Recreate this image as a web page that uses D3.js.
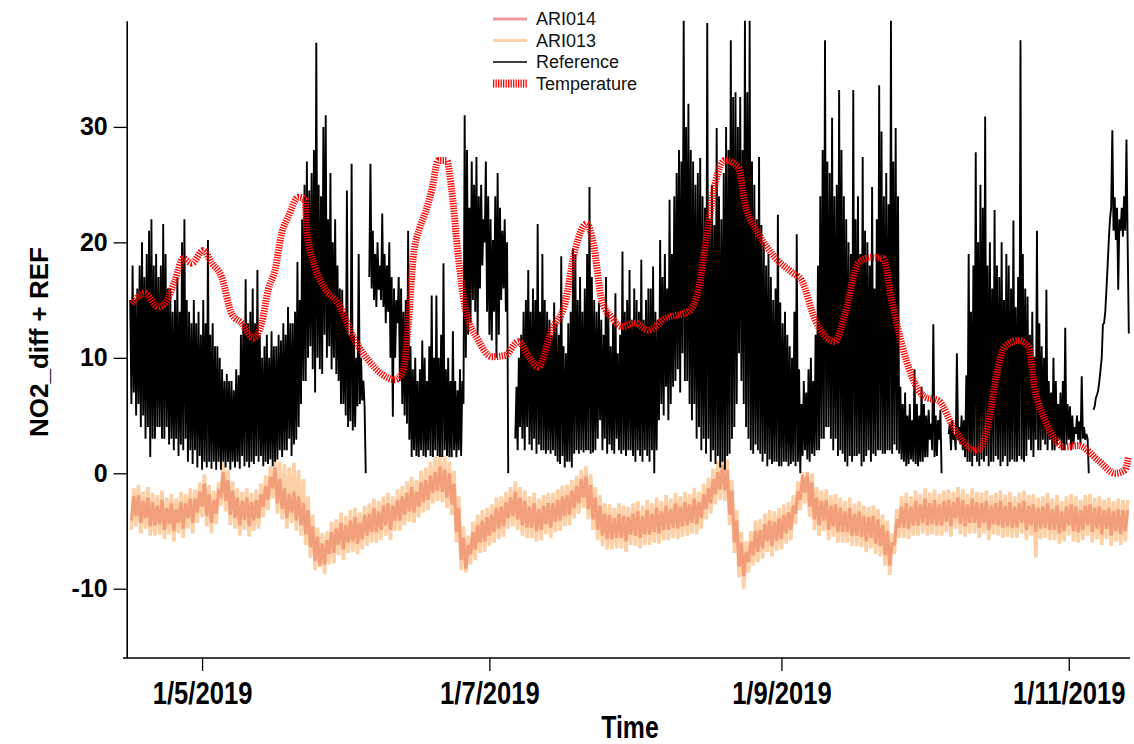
<!DOCTYPE html>
<html><head><meta charset="utf-8">
<script src="https://cdn.jsdelivr.net/npm/d3@7/dist/d3.min.js"></script>
<style>body{margin:0;background:#fff}svg{display:block}</style>
</head><body>
<svg id="chart" width="1134" height="744"></svg>
<script>
// ---------------- data ----------------
const seriesNames = ["ARI014", "ARI013", "Reference", "Temperature"];
const xDomainDates = ["2019-04-15", "2019-11-14"];
const yDomainValues = [-16, 39.2];
const xTickDates = ["2019-05-01", "2019-07-01", "2019-09-01", "2019-11-01"];
const yTickValues = [-10, 0, 10, 20, 30];
const axisTitles = ["Time", "NO2_diff + REF"];

// Reference: four readings per day (every 6 h) starting 15 Apr 2019 00:00
const referenceStart = "2019-04-15T00:00:00Z";
const referenceStepHours = 6;
const referenceValues = [
null,null,null,15, 6,18,7,15, 5,16,6,18, 4,20,5,17, 3,19,4,21, 1.4,22,3,18, 3,19,4,17, 4,18,3,21.6, 3,19,4,16, 2.5,16,3,14,
2,15,3,17, 1.5,14,2.5,20, 2,22,3,15, 1,14,2,13, 0.8,15,2,13, 0.5,14,1.5,12, 0.3,15,1,13, 0.5,20.2,1,12, 0.4,13,1,11, 0.3,11,1,10,
0.3,9,1,8, 0.5,8.6,1,8, 0.3,8,1,7.2, 0.5,9,1,8.5, 0.4,12,1.5,13, 0.6,16.8,1,13, 0.5,14,1,16, 0.8,13,1.5,17.6, 1,12,1.5,10, 0.6,11,1,12,
0.8,10,1.2,12.3, 0.6,11,1,11, 1.2,12,2,11.5, 1.4,13,2,12, 2,14.4,3,13, 1.5,13,2.5,14, 2.9,18.3,4,15, 6,22,8,25, 8,27,10,24.5, 11,26,9,28,
7,37.3,10,25, 9,24,8.6,30, 12,31,10,22, 11,26,9,20, 10,22,8.6,18, 8,16,6,15.9, 6,14,5,24.5, 4,12,4.5,26.8, 3.7,12,4,10, 5.8,19,6,10,
6.3,8,5.8,0, null,null,17,26.8, 16,21,15,19, 14.4,20,15.9,18, 15,22.5,14.4,19, 13,18,14,20, 10,17,4.9,16, 10,15,13,17, 8,16,6,14, 5,15,4.3,21,
2.9,11,1.4,9, 2,10,1.5,8, 1.4,9,2,11.5, 1.5,10,1.4,8, 2,11,1.5,15.4, 1.4,10,2,15.4, 1.5,10,1.4,12, 1.4,18.2,2,9, 1.5,10,1.4,8, 1.4,12.3,2,8,
1.4,7.2,2,9, 1.5,8,6,31, 10,28,12,23, 13,27,15,25, 14,27.4,12,24, 16,25,18,22, 20,27,14,24, 12,22,11.5,20.2, 14,24,10,26, 12,23,15,21,
16,22,14,20, 0,null,null,null, null,null,3,7.5, 2,10,4,12, 3,14,2,15, 4,17.6,2.5,14, 2,16,3,15, 1.7,21.6,2.5,14, 2,19,2,15, 1.7,14,2,13.3,
1.7,12,2,14.8, 1.5,13,1,12, 0.8,18.8,1.5,11, 0.5,10.4,1,13, 1,14,0.5,19.5, 1.7,19,2,15, 1.7,17,2,14, 1.8,16,2,19, 2,24.8,1.7,17, 1.8,15,2,14,
3,14.8,4.6,13.3, 2,12,3,17, 1.7,14,2.5,11, 2,13,1.7,15.6, 3,10.4,2,12, 1.7,19.2,2,14, 1.5,15,2,17.6, 2,13.3,1.5,16, 1,15,2,14, 1.5,18.5,1,13.3,
2,15,1.5,16, 1,16,2,17.9, 0,14,2,13.3, 4.6,20.2,6,17, 5,19,7.5,16, 4.6,23.7,6,19, 7.5,24,8,26, 9,28,7,27, 10.4,39.2,8,30, 8,32,6,28,
4.6,27,6,25, 3,26,4,27.3, 2,24,3,23, 1.7,39,3,22, 1,25,2,21.5, 0.8,29.9,1.5,24, 0.5,22,1,26, 0.3,30,1.5,28, 1.7,37.5,3,32.6, 4,33,6,30,
10.4,32.6,8,28, 6,39.2,4,33, 3,39.2,2,27, 1.7,25,2.5,22, 2,27.4,1.7,21.5, 1,20,1.7,18, 0.6,19,1.2,17, 0.8,15,1,16, 1,22.4,0.6,14.8, 0.6,13,1,14,
1,12,0.6,11, 0.8,10,1,14, 0.6,20.7,1,9, 0,6,1.5,8, 2,7,1.2,9, 1,10,1.7,8, 1.5,12,2,18, 2,24,3,28, 3,37.5,4,27, 4,26,3,30.8,
2,24,3,25, 1.5,33.2,2,28, 1.7,24,1,22, 0.6,20,1.5,19, 1,33.2,1.5,22, 1.5,24,1.7,19, 0.6,27.4,1,21, 1.5,20,2,18, 1,24.8,1.7,16, 1.5,22,2,33.6,
2,29.6,1.7,24, 1.7,26,2,23.3, 2,39.2,1.7,27, 2.5,29.9,2,24, 1.7,7.5,1.2,6, 1,7,0.6,5, 0.8,6,1.2,4.6, 1,9,0.8,6, 0.6,5,1,7.5, 1,6,1.4,5,
1.4,5.5,2.9,4.3, 2,12.9,1.4,5, 1.5,4.6,2.9,5.5, 0,null,null,null, null,null,3.4,4.3, 2,4.6,2.9,3.4, 2,10.4,2.9,4, 2.5,5,2,4.6, 1.4,8.5,1,19, 1,14,0.6,18,
1.5,27.8,1,20, 0.6,25,1.2,23, 1,30.9,1.5,18, 0.6,20,1,16, 1,22.8,1.5,18, 1.2,17,0.6,20, 1,15,1.5,19, 0.6,18,1,16, 1.2,21.9,1,14.4, 1,17,1.5,37.5,
1.2,19,1,16, 1.5,15.3,2.9,12, 2,14,1.4,10.1, 2.9,21,2,13, 2,11,2.9,10, 2.5,15.9,2,8, 2.9,7,2,10, 2,8,2.5,6, 2.9,7,2,8, 2,12.6,2.5,6,
2.9,5.8,2,5, 2.5,4,3.4,5, 2.9,4.5,2.5,8.4, 3,4,2.9,3.4, 3,0,null,null, null,5.5,5.8,6.5, 6.8,7.2,8,9, 10,12.9,13,14, 15.9,18,20.2,22, 23,29.7,21,23.9,
20.2,23,15.9,22, 21,23,20.5,24, 21,28.9,20,12.1
];

// ARI sensors: two readings per day (every 12 h) starting 16 Apr 2019 00:00
const ariStart = "2019-04-16T00:00:00Z";
const ariStepHours = 12;
const ari014Values = [
-4.1,-2.0, -3.7,-1.9, -4.3,-2.4, -3.9,-2.1, -4.6,-2.5, -4.5,-2.8, -4.4,-2.3, -4.9,-3.0, -4.4,-2.6, -5.0,-3.1,
-4.3,-2.5, -4.8,-2.6, -3.9,-2.2, -4.3,-2.2, -3.4,-1.6, -2.9,-0.9, -3.7,-1.8, -4.3,-2.3, -3.5,-1.6, -1.9,0.1,
-2.4,-0.6, -3.6,-1.5, -3.9,-2.1, -4.5,-2.4, -4.0,-2.1, -4.6,-2.5, -4.1,-2.3, -3.9,-1.8, -2.9,-1.1, -2.3,-0.3,
-1.3,0.5, -2.6,-0.5, -3.1,-1.3, -3.9,-1.8, -3.4,-1.6, -4.1,-2.0, -4.5,-2.6, -5.3,-3.2, -6.4,-4.6, -7.6,-5.5,
-8.0,-6.1, -7.9,-5.8, -7.0,-5.1, -6.9,-4.8, -6.2,-4.3, -6.6,-4.5, -6.0,-4.1, -5.9,-3.8, -6.1,-4.3, -5.7,-3.6,
-5.4,-3.5, -5.1,-3.0, -5.1,-3.3, -4.9,-2.8, -4.5,-2.6, -4.9,-2.8, -4.1,-2.3, -4.1,-2.0, -3.6,-1.7, -3.3,-1.2,
-3.4,-1.6, -2.9,-0.8, -2.5,-0.6, -2.3,-0.2, -1.7,0.1, -1.5,0.6, -1.6,0.3, -2.1,0.0, -2.7,-0.9, -5.1,-3.0,
-7.5,-5.6, -8.3,-6.2, -7.0,-5.1, -6.6,-4.5, -6.0,-4.1, -5.9,-3.8, -5.4,-3.6, -5.1,-3.0, -4.8,-2.9, -4.6,-2.5,
-3.9,-2.1, -3.7,-1.6, -4.0,-2.1, -4.5,-2.4, -4.7,-2.9, -4.7,-2.6, -5.0,-3.1, -4.9,-2.8, -4.4,-2.6, -4.7,-2.6,
-4.2,-2.3, -4.1,-2.0, -3.7,-1.9, -3.6,-1.5, -3.0,-1.1, -2.6,-0.5, -2.1,-0.3, -3.1,-1.0, -4.0,-2.1, -4.9,-2.8,
-5.4,-3.5, -5.7,-3.6, -5.7,-3.9, -5.6,-3.5, -5.6,-3.7, -5.9,-3.8, -5.3,-3.5, -5.4,-3.3, -5.6,-3.7, -5.3,-3.2,
-5.3,-3.5, -5.1,-3.0, -5.2,-3.3, -4.9,-2.8, -4.9,-3.1, -4.7,-2.6, -4.8,-2.9, -4.6,-2.5, -4.5,-2.7, -4.3,-2.2,
-4.4,-2.5, -3.9,-1.8, -3.1,-1.3, -2.6,-0.5, -1.8,0.1, -1.4,0.7, -1.5,0.3, -3.6,-1.5, -6.0,-4.1, -8.1,-6.0,
-8.9,-6.8, -7.7,-5.9, -7.1,-5.0, -6.8,-4.9, -6.5,-4.4, -5.9,-4.1, -6.3,-4.2, -5.8,-3.9, -5.7,-3.6, -5.2,-3.4,
-4.9,-2.8, -3.5,-1.6, -2.3,-0.2, -1.7,0.1, -2.9,-0.8, -4.0,-2.1, -4.5,-2.4, -4.1,-2.3, -4.9,-2.8, -4.6,-2.7,
-5.1,-3.0, -5.1,-3.3, -5.1,-3.0, -5.4,-3.5, -5.4,-3.3, -5.5,-3.7, -5.9,-3.8, -5.6,-3.7, -6.1,-4.0, -6.3,-4.5,
-7.1,-5.0, -8.0,-6.1, -6.1,-4.0, -4.7,-2.9, -4.7,-2.6, -4.8,-2.9, -4.5,-2.4, -4.5,-2.7, -4.3,-2.2, -4.5,-2.6,
-4.4,-2.3, -4.5,-2.7, -4.5,-2.4, -4.2,-2.3, -4.6,-2.5, -3.9,-2.1, -4.4,-2.3, -4.6,-2.7, -4.3,-2.2, -4.3,-2.5,
-4.7,-2.6, -4.3,-2.4, -4.9,-2.8, -4.4,-2.6, -4.5,-2.4, -4.7,-2.8, -4.6,-2.5, -4.7,-2.9, -4.7,-2.6, -4.3,-2.4,
-4.9,-2.8, -4.5,-2.7, -5.1,-3.0, -4.8,-2.9, -4.7,-2.6, -4.9,-3.1, -4.9,-2.8, -5.2,-3.3, -5.0,-2.9, -4.5,-2.7,
-5.0,-2.9, -5.1,-3.2, -4.9,-2.8, -4.5,-2.7, -5.1,-3.0, -4.8,-2.9, -5.3,-3.2, -4.8,-3.0, -5.4,-3.3, -5.0,-3.1,
-5.3,-3.2, -5.0,-3.2
];
const ari013Values = [
-4.9,-1.3, -4.6,-1.0, -5.2,-1.6, -4.8,-1.2, -5.4,-1.7, -5.4,-1.9, -5.3,-1.5, -5.7,-2.1, -5.3,-1.8, -5.9,-2.2,
-5.2,-1.6, -5.6,-1.8, -4.8,-1.3, -5.2,-1.4, -4.3,-0.8, -3.8,-0.1, -4.6,-1.0, -5.2,-1.5, -4.4,-0.8, -2.8,1.0,
-3.3,0.3, -4.5,-0.7, -4.8,-1.3, -5.4,-1.6, -4.9,-1.3, -5.5,-1.7, -5.0,-1.4, -4.8,-0.9, -3.8,-0.2, -3.2,0.6,
-2.2,1.3, -3.5,1.0, -4.0,0.8, -4.8,0.5, -4.3,0.9, -5.0,0.3, -5.4,-0.5, -6.2,-2.0, -7.3,-3.6, -8.4,-4.7,
-8.1,-5.2, -8.7,-5.0, -7.9,-4.2, -7.8,-4.0, -7.1,-3.4, -7.5,-3.7, -6.9,-3.2, -6.8,-3.0, -7.0,-3.4, -6.6,-2.8,
-6.3,-2.6, -6.0,-2.2, -6.0,-2.4, -5.8,-2.0, -5.4,-1.7, -5.8,-2.0, -5.0,-1.4, -5.0,-1.1, -4.5,-0.7, -4.2,-0.3,
-4.3,-0.6, -3.8,0.2, -3.4,0.5, -3.2,1.0, -2.6,1.4, -2.4,1.8, -2.5,1.5, -3.0,1.0, -3.6,0.2, -6.0,-2.0,
-8.4,-4.6, -8.6,-5.4, -7.9,-4.2, -7.5,-3.6, -6.9,-3.2, -6.8,-3.0, -6.3,-2.7, -6.0,-2.1, -5.7,-2.0, -5.5,-1.6,
-4.8,-1.2, -4.6,-0.7, -4.9,-1.2, -5.4,-1.5, -5.6,-2.0, -5.6,-1.7, -5.9,-2.2, -5.8,-1.9, -5.3,-1.7, -5.6,-1.7,
-5.1,-1.4, -5.0,-1.1, -4.6,-1.0, -4.5,-0.6, -3.9,-0.2, -3.5,0.3, -3.0,0.6, -4.0,-0.1, -4.9,-1.2, -5.8,-1.9,
-6.3,-2.6, -6.6,-2.7, -6.6,-3.0, -6.5,-2.6, -6.5,-2.8, -6.8,-2.9, -6.2,-2.6, -6.3,-2.4, -6.5,-2.8, -6.2,-2.3,
-6.2,-2.6, -6.0,-2.1, -6.1,-2.4, -5.8,-1.9, -5.8,-2.2, -5.6,-1.7, -5.7,-2.0, -5.5,-1.6, -5.4,-1.8, -5.2,-1.3,
-5.3,-1.6, -4.8,-0.9, -4.0,-0.4, -3.5,0.4, -2.7,1.0, -2.3,1.6, -2.4,1.2, -4.5,-0.6, -6.9,-3.2, -9.0,-5.1,
-10.0,-5.9, -8.6,-5.0, -8.0,-4.1, -7.7,-4.0, -7.4,-3.5, -6.8,-3.2, -7.2,-3.3, -6.7,-3.0, -6.6,-2.7, -6.1,-2.5,
-5.8,-1.9, -4.4,-0.7, -3.2,0.1, -2.6,-0.2, -3.8,0.0, -4.9,-1.2, -5.4,-1.5, -5.0,-1.4, -5.8,-1.9, -5.5,-1.8,
-6.0,-2.1, -6.0,-2.4, -6.0,-2.1, -6.3,-2.6, -6.3,-2.4, -6.4,-2.8, -6.8,-2.9, -6.5,-2.8, -7.0,-3.1, -7.2,-3.6,
-8.0,-4.1, -8.8,-5.2, -7.0,-3.1, -5.6,-2.0, -5.6,-1.7, -5.7,-2.0, -5.4,-1.5, -5.4,-1.8, -5.2,-1.3, -5.4,-1.7,
-5.3,-1.4, -5.4,-1.8, -5.4,-1.5, -5.1,-1.4, -5.5,-1.6, -4.8,-1.2, -5.3,-1.4, -5.5,-1.8, -5.2,-1.3, -5.2,-1.6,
-5.6,-1.7, -5.2,-1.5, -5.8,-1.9, -5.3,-1.7, -5.4,-1.5, -5.6,-1.9, -5.5,-1.6, -5.6,-2.0, -5.6,-1.7, -5.2,-1.5,
-5.8,-1.9, -5.4,-1.8, -7.3,-2.1, -5.7,-2.0, -5.6,-1.7, -5.8,-2.2, -5.8,-1.9, -6.1,-2.4, -5.9,-2.0, -5.4,-1.8,
-5.9,-2.0, -6.0,-2.3, -5.8,-1.9, -5.4,-1.8, -6.0,-2.1, -5.7,-2.0, -6.2,-2.3, -5.7,-2.1, -6.3,-2.4, -5.9,-2.2,
-6.2,-2.3, -5.9,-2.3
];

// Temperature: smooth reading points
const temperatureDates = [
"2019-04-16T01:00","2019-04-18T21:00","2019-04-21T17:00","2019-04-23T03:00","2019-04-25T06:00","2019-04-27T00:00","2019-04-28T19:00",
"2019-05-01T06:00","2019-05-03T01:00","2019-05-05T04:00","2019-05-07T07:00","2019-05-09T10:00","2019-05-11T21:00","2019-05-13T16:00",
"2019-05-15T01:00","2019-05-16T12:00","2019-05-17T22:00","2019-05-19T07:00","2019-05-21T10:00","2019-05-22T21:00","2019-05-23T05:00",
"2019-05-24T23:00","2019-05-27T02:00","2019-05-29T22:00","2019-06-02T11:00","2019-06-05T07:00","2019-06-08T03:00","2019-06-10T23:00",
"2019-06-12T17:00","2019-06-13T19:00","2019-06-14T20:00","2019-06-16T06:00","2019-06-17T08:00","2019-06-18T18:00","2019-06-20T04:00",
"2019-06-21T23:00","2019-06-23T00:00","2019-06-24T10:00","2019-06-25T20:00","2019-06-28T16:00","2019-07-01T12:00","2019-07-04T08:00",
"2019-07-07T03:00","2019-07-09T06:00","2019-07-11T09:00","2019-07-14T05:00","2019-07-17T01:00","2019-07-19T04:00","2019-07-21T16:00",
"2019-07-23T02:00","2019-07-24T20:00","2019-07-26T23:00","2019-07-29T02:00","2019-07-31T22:00","2019-08-03T18:00","2019-08-07T07:00",
"2019-08-12T06:00","2019-08-14T09:00","2019-08-16T03:00","2019-08-17T22:00","2019-08-20T01:00","2019-08-22T20:00","2019-08-24T06:00",
"2019-08-27T02:00","2019-08-30T15:00","2019-09-03T05:00","2019-09-05T07:00","2019-09-08T03:00","2019-09-12T09:00","2019-09-14T12:00",
"2019-09-17T08:00","2019-09-20T04:00","2019-09-22T15:00","2019-09-24T10:00","2019-09-26T13:00","2019-09-28T16:00","2019-10-01T12:00",
"2019-10-04T07:00","2019-10-07T21:00","2019-10-10T16:00","2019-10-12T19:00","2019-10-14T22:00","2019-10-16T17:00","2019-10-18T11:00",
"2019-10-21T07:00","2019-10-23T10:00","2019-10-24T20:00","2019-10-26T23:00","2019-10-31T05:00","2019-11-03T01:00","2019-11-07T07:00",
"2019-11-10T20:00","2019-11-12T23:00","2019-11-13T16:00"
];
const temperatureValues = [
14.7,15.6,14.4,14.7,16.7,18.6,18.2,
19.3,18.2,17.0,13.8,13.0,11.7,13.0,
15.9,17.6,20.8,22.2,23.9,23.7,21.1,
17.9,16.0,14.7,11.5,9.8,8.6,8.1,
8.9,13.0,18.7,21.3,22.5,24.5,27.1,
27.1,24.5,18.7,14.4,11.5,10.1,10.2,
11.4,10.2,9.2,12.4,14.7,19.3,21.6,
19.9,15.0,13.5,12.7,13.0,12.4,13.4,
14.0,15.9,20.5,25.1,27.1,26.5,23.4,
20.8,18.7,17.4,16.7,13.3,11.4,13.8,
18.2,18.7,18.6,15.0,11.2,8.4,6.6,
6.3,3.7,2.3,2.0,4.3,8.6,11.0,
11.5,11.0,7.2,4.6,2.3,2.4,1.1,
0.0,0.3,1.4
];

// ---------------- drawing ----------------
const svg = d3.select("#chart");
const W = 1134, H = 744;
svg.append("rect").attr("width", W).attr("height", H).attr("fill", "#fff");

const parseDay = d3.utcParse("%Y-%m-%d");
const parseHour = d3.utcParse("%Y-%m-%dT%H:%M");

const x = d3.scaleUtc()
  .domain(xDomainDates.map(parseDay))
  .range([126.7, 1130]);
const y = d3.scaleLinear()
  .domain(yDomainValues)
  .range([658, 20.7]);

const stepSeries = (start, stepH, vals) => {
  const t0 = Date.parse(start);
  return vals.map((v, i) => ({ t: new Date(t0 + i * stepH * 3600000), v }));
};

const refData = stepSeries(referenceStart, referenceStepHours, referenceValues);
const a14Data = stepSeries(ariStart, ariStepHours, ari014Values);
const a13Data = stepSeries(ariStart, ariStepHours, ari013Values);
const tempData = temperatureDates.map((d, i) => ({ t: parseHour(d), v: temperatureValues[i] }));

const line = d3.line()
  .defined(d => d.v !== null)
  .x(d => x(d.t))
  .y(d => y(d.v));

const colors = {
  ARI014: "rgba(236,128,96,0.62)",
  ARI013: "#fdd0a6",
  Reference: "#000",
  Temperature: "#ff0000"
};

const plot = svg.append("g");

plot.append("path").datum(a13Data)
  .attr("d", line).attr("fill", "none")
  .attr("stroke", colors.ARI013).attr("stroke-width", 3.6);

plot.append("path").datum(a14Data)
  .attr("d", line).attr("fill", "none")
  .attr("stroke", colors.ARI014).attr("stroke-width", 3.2);

plot.append("path").datum(refData)
  .attr("d", line).attr("fill", "none")
  .attr("stroke", colors.Reference).attr("stroke-width", 1.9)
  .attr("stroke-linejoin", "bevel");

const tempLine = d3.line()
  .x(d => x(d.t)).y(d => y(d.v))
  .curve(d3.curveMonotoneX);
plot.append("path").datum(tempData)
  .attr("d", tempLine).attr("fill", "none")
  .attr("stroke", colors.Temperature).attr("stroke-width", 7)
  .attr("stroke-dasharray", "1.3,1.2");

// axes
const fmt = d => `${d.getUTCDate()}/${d.getUTCMonth() + 1}/${d.getUTCFullYear()}`;
const narrow = "scale(0.8,1)";

const gx = svg.append("g").attr("transform", "translate(0,658)")
  .call(d3.axisBottom(x)
    .tickValues(xTickDates.map(parseDay))
    .tickFormat(fmt)
    .tickSize(13).tickSizeOuter(0).tickPadding(10));
gx.select(".domain").attr("stroke", "#000").attr("stroke-width", 1.6)
  .attr("d", "M123,0H1130");
gx.selectAll(".tick line").attr("stroke", "#000").attr("stroke-width", 1.3);
gx.selectAll(".tick text")
  .attr("fill", "#000")
  .attr("transform", narrow)
  .style("font-family", "'Liberation Sans',Arial,sans-serif")
  .style("font-weight", "bold")
  .style("font-size", "32px");

const gy = svg.append("g").attr("transform", "translate(126.7,0)")
  .call(d3.axisLeft(y)
    .tickValues(yTickValues)
    .tickFormat(d => String(d))
    .tickSize(13).tickSizeOuter(0).tickPadding(6));
gy.select(".domain").attr("stroke", "#000").attr("stroke-width", 1.6);
gy.selectAll(".tick line").attr("stroke", "#000").attr("stroke-width", 1.3);
gy.selectAll(".tick text")
  .attr("fill", "#000")
  .style("font-family", "'Liberation Sans',Arial,sans-serif")
  .style("font-weight", "bold")
  .style("font-size", "25px");

// axis titles
svg.append("g").attr("transform", "translate(630,738)")
  .append("text")
  .attr("transform", narrow)
  .attr("text-anchor", "middle")
  .style("font-family", "'Liberation Sans',Arial,sans-serif")
  .style("font-weight", "bold").style("font-size", "31px")
  .text(axisTitles[0]);

svg.append("text")
  .attr("transform", "translate(48,342) rotate(-90)")
  .attr("text-anchor", "middle")
  .style("font-family", "'Liberation Sans',Arial,sans-serif")
  .style("font-weight", "bold").style("font-size", "26px")
  .text(axisTitles[1]);

// legend
const legend = svg.append("g").attr("transform", "translate(493,19)");
const legendStyles = {
  ARI014: { w: 3, dash: null, color: "rgba(232,120,120,0.75)" },
  ARI013: { w: 3, dash: null, color: colors.ARI013 },
  Reference: { w: 1.5, dash: null, color: "#000" },
  Temperature: { w: 8, dash: "1.3,1.2", color: colors.Temperature }
};
seriesNames.forEach((name, i) => {
  const g = legend.append("g").attr("transform", `translate(0,${i * 21.5})`);
  const st = legendStyles[name];
  g.append("line").attr("x1", 0).attr("x2", 34).attr("y1", 0).attr("y2", 0)
    .attr("stroke", st.color).attr("stroke-width", st.w)
    .attr("stroke-dasharray", st.dash);
  g.append("text").attr("x", 43).attr("y", 0).attr("dy", "0.36em")
    .style("font-family", "'Liberation Sans',Arial,sans-serif")
    .style("font-size", "18px").attr("fill", "#111")
    .text(name);
});
</script>
</body></html>
